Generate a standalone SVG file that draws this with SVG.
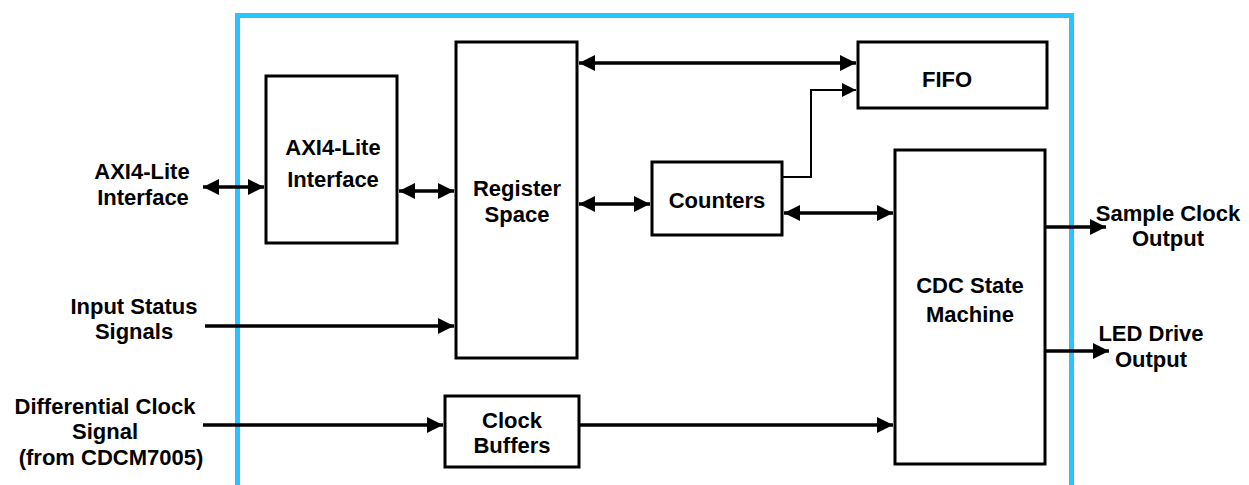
<svg xmlns="http://www.w3.org/2000/svg" width="1249" height="485" viewBox="0 0 1249 485">
<style>
.box{fill:#fff;stroke:#000;stroke-width:3}
.t{font-family:"Liberation Sans",Arial,sans-serif;font-weight:bold;font-size:22px;fill:#000;text-anchor:middle}
.w{stroke:#000;stroke-width:3.5;fill:none}
.thin{stroke:#000;stroke-width:2;fill:none}
</style>
<defs>
<marker id="ah" viewBox="0 0 16 16" refX="16" refY="8" markerWidth="16" markerHeight="16" markerUnits="userSpaceOnUse" orient="auto-start-reverse">
<path d="M0,0 L16,8 L0,16 Z" fill="#000"/>
</marker>
<marker id="ahs" viewBox="0 0 14 14" refX="14" refY="7" markerWidth="14" markerHeight="14" markerUnits="userSpaceOnUse" orient="auto">
<path d="M0,0 L14,7 L0,14 Z" fill="#000"/>
</marker>
</defs>
<rect width="1249" height="485" fill="#fff"/>
<path d="M237.5,490 V15.5 H1071.5 V490" fill="none" stroke="#29c3ff" stroke-width="5"/>

<g id="axi">
<rect class="box" x="266" y="76" width="131" height="167"/>
<text class="t" x="333" y="155" font-size="23">AXI4-Lite</text>
<text class="t" x="333" y="187" font-size="23">Interface</text>
</g>
<g id="regspace">
<rect class="box" x="456" y="42" width="121" height="316"/>
<text class="t" x="517" y="196">Register</text>
<text class="t" x="517" y="222">Space</text>
</g>
<g id="fifo">
<rect class="box" x="858" y="42" width="189" height="66"/>
<text class="t" x="947" y="87">FIFO</text>
</g>
<g id="counters">
<rect class="box" x="652" y="162" width="130" height="73"/>
<text class="t" x="717" y="208">Counters</text>
</g>
<g id="cdc">
<rect class="box" x="895" y="150" width="150" height="314"/>
<text class="t" x="970" y="293">CDC State</text>
<text class="t" x="970" y="322">Machine</text>
</g>
<g id="clkbuf">
<rect class="box" x="445" y="396" width="134" height="71"/>
<text class="t" x="512" y="428">Clock</text>
<text class="t" x="512" y="453">Buffers</text>
</g>

<g id="labels">
<text class="t" x="142" y="179" font-size="20">AXI4-Lite</text>
<text class="t" x="143" y="205" font-size="20">Interface</text>
<text class="t" x="134" y="314">Input Status</text>
<text class="t" x="134" y="339">Signals</text>
<text class="t" x="105" y="414">Differential Clock</text>
<text class="t" x="105" y="439">Signal</text>
<text class="t" x="111" y="465">(from CDCM7005)</text>
<text class="t" x="1168" y="221">Sample Clock</text>
<text class="t" x="1168" y="246">Output</text>
<text class="t" x="1151" y="341">LED Drive</text>
<text class="t" x="1151" y="367">Output</text>
</g>

<g id="connectors">
<line class="w" x1="203" y1="187" x2="264" y2="187" marker-start="url(#ah)" marker-end="url(#ah)"/>
<line class="w" x1="399" y1="191" x2="454" y2="191" marker-start="url(#ah)" marker-end="url(#ah)"/>
<line class="w" x1="579" y1="63" x2="856" y2="63" marker-start="url(#ah)" marker-end="url(#ah)"/>
<line class="w" x1="579" y1="204" x2="650" y2="204" marker-start="url(#ah)" marker-end="url(#ah)"/>
<line class="w" x1="784" y1="213" x2="893" y2="213" marker-start="url(#ah)" marker-end="url(#ah)"/>
<polyline class="thin" points="782,177 811,177 811,90 856,90" marker-end="url(#ahs)"/>
<line class="w" x1="205" y1="326" x2="454" y2="326" marker-end="url(#ah)"/>
<line class="w" x1="203" y1="425" x2="443" y2="425" marker-end="url(#ah)"/>
<line class="w" x1="579" y1="425" x2="893" y2="425" marker-end="url(#ah)"/>
<line class="w" x1="1045" y1="227" x2="1106" y2="227" marker-end="url(#ah)"/>
<line class="w" x1="1045" y1="351" x2="1109" y2="351" marker-end="url(#ah)"/>
</g>
</svg>
